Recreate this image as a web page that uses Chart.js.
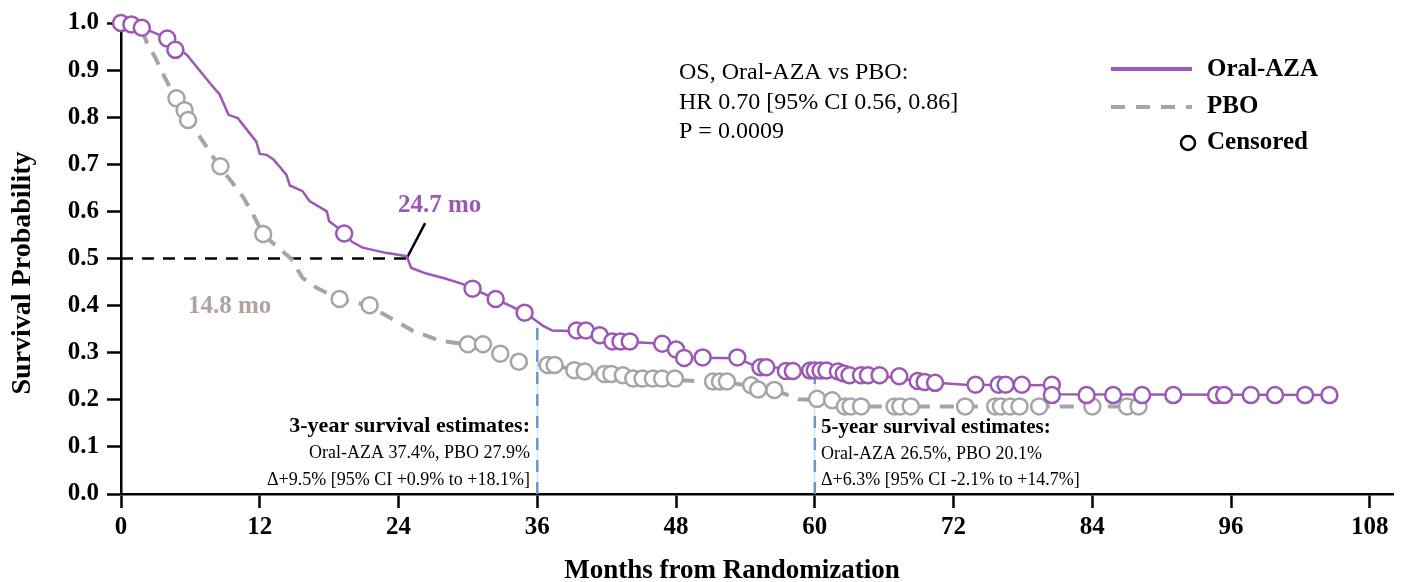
<!DOCTYPE html>
<html>
<head>
<meta charset="utf-8">
<script src="https://cdn.jsdelivr.net/npm/chart.js"></script>
<style>
  html, body { margin: 0; padding: 0; background: #fff; }
</style>
</head>
<body>
<canvas id="myChart" width="1404" height="582"></canvas>
<script>
// Kaplan-Meier curves (months, survival probability)
var azaMonths = [0, 1.8, 4.0, 5.0, 5.7, 7.7, 8.3, 8.5, 9.3, 10.1, 11.7, 12.0, 12.6, 13.2, 14.3, 14.6, 15.7, 16.3, 17.8, 18.0, 19.3, 20.0, 20.9, 22.9, 24.7, 25.1, 26.4, 28.1, 29.5, 30.4, 32.4, 34.9, 35.9, 36.5, 37.3, 40.2, 41.4, 42.5, 44.5, 46.8, 48.0, 48.7, 53.3, 55.0, 57.0, 57.4, 61.8, 62.3, 66.0, 68.8, 70.5, 73.0, 80.4, 80.6, 105.0];
var azaSurv = [1.0, 0.99, 0.968, 0.945, 0.932, 0.872, 0.855, 0.85, 0.805, 0.798, 0.748, 0.722, 0.72, 0.71, 0.678, 0.655, 0.643, 0.622, 0.60, 0.579, 0.555, 0.535, 0.523, 0.512, 0.505, 0.48, 0.468, 0.457, 0.446, 0.436, 0.414, 0.385, 0.368, 0.357, 0.347, 0.345, 0.336, 0.324, 0.322, 0.319, 0.307, 0.290, 0.288, 0.270, 0.268, 0.261, 0.260, 0.254, 0.250, 0.240, 0.236, 0.232, 0.231, 0.212, 0.210];

var pboMonths = [0, 1.8, 2.2, 3.0, 3.7, 4.3, 4.8, 5.5, 5.8, 6.5, 7.1, 8.5, 9.5, 10.6, 11.5, 12.3, 13.5, 14.6, 14.9, 15.3, 15.7, 16.9, 18.9, 21.5, 22.5, 23.5, 25.2, 27.5, 30.0, 31.3, 32.8, 34.2, 35.9, 37.6, 39.2, 40.1, 41.9, 43.4, 44.4, 48.0, 51.2, 52.3, 54.6, 56.5, 58.6, 62.0, 62.7, 88.0];
var pboSurv = [1.0, 0.99, 0.96, 0.925, 0.889, 0.86, 0.84, 0.815, 0.794, 0.77, 0.748, 0.696, 0.665, 0.629, 0.59, 0.551, 0.525, 0.502, 0.495, 0.475, 0.459, 0.438, 0.414, 0.400, 0.385, 0.371, 0.347, 0.326, 0.317, 0.315, 0.298, 0.281, 0.275, 0.273, 0.263, 0.259, 0.253, 0.248, 0.243, 0.242, 0.238, 0.238, 0.228, 0.221, 0.201, 0.199, 0.186, 0.186];

// Censored marks
var azaCensMonths = [0, 0.9, 1.8, 4.0, 4.7, 19.3, 30.4, 32.4, 34.9, 39.4, 40.2, 41.4, 42.5, 43.2, 44.0, 46.8, 48.0, 48.7, 50.3, 53.3, 55.3, 55.8, 57.5, 58.1, 59.6, 60.0, 60.5, 61.0, 62.0, 62.5, 63.0, 64.0, 64.6, 65.6, 67.3, 68.9, 69.5, 70.4, 73.9, 75.9, 76.5, 77.9, 80.5, 80.5, 83.5, 85.8, 88.3, 91.0, 94.7, 95.4, 97.7, 99.8, 102.4, 104.5];
var azaCensSurv = [1.0, 0.997, 0.99, 0.967, 0.943, 0.553, 0.436, 0.414, 0.385, 0.347, 0.347, 0.337, 0.324, 0.324, 0.324, 0.319, 0.307, 0.289, 0.290, 0.290, 0.269, 0.269, 0.261, 0.261, 0.262, 0.262, 0.262, 0.262, 0.260, 0.256, 0.252, 0.252, 0.252, 0.252, 0.250, 0.240, 0.238, 0.236, 0.232, 0.232, 0.232, 0.232, 0.232, 0.210, 0.210, 0.210, 0.210, 0.210, 0.210, 0.210, 0.210, 0.210, 0.210, 0.210];

var pboCensMonths = [4.8, 5.5, 5.8, 8.6, 12.3, 18.9, 21.5, 30.0, 31.3, 32.8, 34.4, 36.9, 37.5, 39.2, 40.1, 41.8, 42.4, 43.4, 44.3, 45.1, 46.0, 46.8, 47.9, 51.2, 51.8, 52.4, 54.5, 55.1, 56.5, 60.2, 61.5, 62.6, 63.1, 64.0, 66.9, 67.4, 68.3, 73.0, 75.6, 76.1, 76.9, 77.7, 79.4, 84.0, 87.0, 88.0];
var pboCensSurv = [0.840, 0.815, 0.794, 0.696, 0.552, 0.414, 0.401, 0.318, 0.318, 0.298, 0.281, 0.274, 0.274, 0.263, 0.260, 0.255, 0.255, 0.252, 0.245, 0.245, 0.245, 0.245, 0.245, 0.239, 0.239, 0.239, 0.231, 0.222, 0.221, 0.202, 0.199, 0.186, 0.186, 0.186, 0.186, 0.186, 0.186, 0.186, 0.186, 0.186, 0.186, 0.186, 0.186, 0.186, 0.186, 0.186];

// Reference marks
var medianSurv = 0.5;
var medianAza = 24.7;
var landmarkMonths = [36, 60];
var landmarkAzaSurv = [0.357, 0.262];

// Axis ticks
var xTicks = [0, 12, 24, 36, 48, 60, 72, 84, 96, 108];
var yTicks = [0, 0.1, 0.2, 0.3, 0.4, 0.5, 0.6, 0.7, 0.8, 0.9, 1.0];

var purple = '#9b59b3';
var gray = '#a5a5a9';
var blue = '#6b98cb';
var serif = "'Liberation Serif', 'Times New Roman', serif";

function pts(xs, ys) {
  return xs.map(function (x, i) { return { x: x, y: ys[i] }; });
}

var datasets = [
  {
    label: 'Oral-AZA censored', data: pts(azaCensMonths, azaCensSurv), showLine: false,
    pointRadius: 8, pointBorderWidth: 2.5, pointBorderColor: purple, pointBackgroundColor: '#fff', clip: false
  },
  {
    label: 'PBO censored', data: pts(pboCensMonths, pboCensSurv), showLine: false,
    pointRadius: 8, pointBorderWidth: 2.5, pointBorderColor: gray, pointBackgroundColor: '#fff', clip: false
  },
  {
    label: 'Oral-AZA', data: pts(azaMonths, azaSurv), borderColor: purple, borderWidth: 2.5,
    pointRadius: 0, fill: false, tension: 0
  },
  {
    label: 'PBO', data: pts(pboMonths, pboSurv), borderColor: gray, borderWidth: 4,
    borderDash: [14, 10], pointRadius: 0, fill: false, tension: 0
  },
  {
    label: 'median', data: [{ x: 0, y: medianSurv }, { x: medianAza, y: medianSurv }],
    borderColor: '#000', borderWidth: 2.5, borderDash: [12, 9], pointRadius: 0
  },
  {
    label: 'leader', data: [{ x: medianAza, y: medianSurv }, { x: 26.3, y: 0.575 }],
    borderColor: '#000', borderWidth: 2.5, pointRadius: 0
  }
];
landmarkMonths.forEach(function (m, i) {
  datasets.push({
    label: 'lm' + i, data: [{ x: m, y: 0 }, { x: m, y: landmarkAzaSurv[i] }],
    borderColor: blue, borderWidth: 2.5, borderDash: [12, 10], pointRadius: 0
  });
  datasets.push({
    label: 'lm-thin' + i, data: [{ x: m, y: 0 }, { x: m, y: landmarkAzaSurv[i] }],
    borderColor: '#c9d9ee', borderWidth: 1, pointRadius: 0
  });
});

function txt(ctx, s, x, y, font, color, align) {
  ctx.font = font;
  ctx.fillStyle = color;
  ctx.textAlign = align || 'left';
  ctx.textBaseline = 'middle';
  ctx.fillText(s, x, y);
}

var annotations = {
  id: 'annotations',
  afterDatasetsDraw: function (chart) {
    var ctx = chart.ctx;
    ctx.save();
    txt(ctx, '24.7 mo', 398, 206, 'bold 25px ' + serif, purple);
    txt(ctx, '14.8 mo', 188, 307, 'bold 25px ' + serif, '#b1a49e');

    txt(ctx, 'OS, Oral-AZA vs PBO:', 679, 73, '24px ' + serif, '#000');
    txt(ctx, 'HR 0.70 [95% CI 0.56, 0.86]', 679, 103, '24px ' + serif, '#000');
    txt(ctx, 'P = 0.0009', 679, 132, '24px ' + serif, '#000');

    txt(ctx, '3-year survival estimates:', 530, 426, 'bold 22px ' + serif, '#000', 'right');
    txt(ctx, 'Oral-AZA 37.4%, PBO 27.9%', 530, 453, '18px ' + serif, '#000', 'right');
    txt(ctx, '\u0394+9.5% [95% CI +0.9% to +18.1%]', 530, 480, '18px ' + serif, '#000', 'right');

    txt(ctx, '5-year survival estimates:', 821, 428, 'bold 21px ' + serif, '#000');
    txt(ctx, 'Oral-AZA 26.5%, PBO 20.1%', 821, 454, '18px ' + serif, '#000');
    txt(ctx, '\u0394+6.3% [95% CI -2.1% to +14.7%]', 821, 480, '18px ' + serif, '#000');

    // legend
    ctx.lineWidth = 4;
    ctx.strokeStyle = purple;
    ctx.beginPath(); ctx.moveTo(1111, 69); ctx.lineTo(1192, 69); ctx.stroke();
    ctx.strokeStyle = gray;
    ctx.setLineDash([14, 11]);
    ctx.beginPath(); ctx.moveTo(1111, 107); ctx.lineTo(1192, 107); ctx.stroke();
    ctx.setLineDash([]);
    ctx.lineWidth = 2.5;
    ctx.strokeStyle = '#000';
    ctx.beginPath(); ctx.arc(1188, 143, 7, 0, Math.PI * 2); ctx.stroke();
    txt(ctx, 'Oral-AZA', 1207, 70, 'bold 25px ' + serif, '#000');
    txt(ctx, 'PBO', 1207, 107, 'bold 25px ' + serif, '#000');
    txt(ctx, 'Censored', 1207, 143, 'bold 25px ' + serif, '#000');

    // axis titles
    txt(ctx, 'Months from Randomization', 732, 571, 'bold 27px ' + serif, '#000', 'center');
    ctx.save();
    ctx.translate(23, 273);
    ctx.rotate(-Math.PI / 2);
    txt(ctx, 'Survival Probability', 0, 0, 'bold 28px ' + serif, '#000', 'center');
    ctx.restore();
    ctx.restore();
  }
};

var ctx = document.getElementById('myChart').getContext('2d');
var myChart = new Chart(ctx, {
  type: 'line',
  data: { datasets: datasets },
  options: {
    responsive: false,
    animation: false,
    devicePixelRatio: 1,
    layout: { padding: { left: 0, right: 11, top: 21, bottom: 0 } },
    plugins: { legend: { display: false }, tooltip: { enabled: false } },
    scales: {
      x: {
        type: 'linear', min: 0, max: 110,
        afterFit: function (s) { s.height = 88; },
        afterBuildTicks: function (s) { s.ticks = xTicks.map(function (v) { return { value: v }; }); },
        ticks: { font: { family: serif, size: 25, weight: 'bold' }, color: '#000', padding: 5, maxRotation: 0, autoSkip: false },
        grid: { drawOnChartArea: false, drawTicks: true, tickLength: 14, tickWidth: 2.5, tickColor: '#000' },
        border: { display: true, color: '#000', width: 2.5 },
        title: { display: false }
      },
      y: {
        type: 'linear', min: 0, max: 1,
        afterFit: function (s) { s.width = 121; },
        afterBuildTicks: function (s) { s.ticks = yTicks.map(function (v) { return { value: v }; }); },
        ticks: { font: { family: serif, size: 25, weight: 'bold' }, color: '#000', padding: 8, callback: function (v) { return v.toFixed(1); } },
        grid: { drawOnChartArea: false, drawTicks: true, tickLength: 14, tickWidth: 2.5, tickColor: '#000' },
        border: { display: true, color: '#000', width: 2.5 },
        title: { display: false }
      }
    }
  },
  plugins: [annotations]
});
</script>
</body>
</html>
